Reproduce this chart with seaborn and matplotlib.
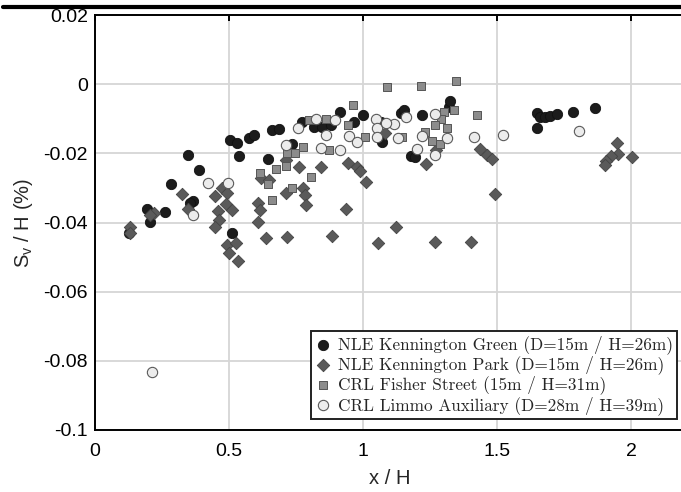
import numpy as np
import pandas as pd
import matplotlib
matplotlib.use("Agg")
import matplotlib.pyplot as plt
from matplotlib.lines import Line2D
import seaborn as sns

# ---------------- data ----------------
green_x = [0.126, 0.193, 0.204, 0.260, 0.282, 0.345, 0.386, 0.367, 0.356, 0.512,
           0.505, 0.531, 0.538, 0.575, 0.594, 0.646, 0.661, 0.687, 0.735, 0.772,
           0.817, 0.846, 0.880, 0.913, 0.965, 0.999, 1.065, 1.069, 1.140, 1.154,
           1.221, 1.180, 1.195, 1.321, 1.325, 1.648, 1.659, 1.678, 1.696, 1.722,
           1.782, 1.863, 1.648]
green_y = [-0.0430, -0.0361, -0.0398, -0.0369, -0.0288, -0.0205, -0.0248, -0.0338, -0.0343, -0.0430,
           -0.0161, -0.0170, -0.0208, -0.0155, -0.0147, -0.0216, -0.0132, -0.0129, -0.0173, -0.0109,
           -0.0124, -0.0124, -0.0118, -0.0080, -0.0109, -0.0089, -0.0109, -0.0167, -0.0083, -0.0075,
           -0.0089, -0.0208, -0.0210, -0.0066, -0.0049, -0.0083, -0.0095, -0.0095, -0.0092, -0.0086,
           -0.0080, -0.0069, -0.0127]

park_x = [0.130, 0.130, 0.219, 0.204, 0.323, 0.345, 0.449, 0.457, 0.464, 0.449,
          0.475, 0.494, 0.487, 0.509, 0.494, 0.527, 0.501, 0.535, 0.620, 0.650,
          0.609, 0.616, 0.609, 0.638, 0.713, 0.713, 0.716, 0.761, 0.776, 0.783,
          0.787, 0.843, 0.883, 0.935, 0.943, 0.976, 0.987, 1.010, 1.054, 1.080,
          1.121, 1.236, 1.273, 1.269, 1.403, 1.437, 1.463, 1.481, 1.492, 1.945,
          1.949, 1.923, 1.904, 1.900, 2.004]
park_y = [-0.0413, -0.0430, -0.0372, -0.0378, -0.0317, -0.0361, -0.0323, -0.0366, -0.0392, -0.0413,
          -0.0300, -0.0314, -0.0346, -0.0364, -0.0465, -0.0459, -0.0488, -0.0511, -0.0271, -0.0277,
          -0.0343, -0.0364, -0.0398, -0.0445, -0.0219, -0.0314, -0.0442, -0.0239, -0.0300, -0.0320,
          -0.0349, -0.0239, -0.0439, -0.0361, -0.0228, -0.0239, -0.0251, -0.0283, -0.0459, -0.0141,
          -0.0413, -0.0231, -0.0190, -0.0456, -0.0456, -0.0187, -0.0205, -0.0216, -0.0317, -0.0170,
          -0.0202, -0.0208, -0.0222, -0.0234, -0.0210]

fisher_x = [0.616, 0.676, 0.646, 0.661, 0.713, 0.735, 0.716, 0.746, 0.776, 0.805,
            0.872, 0.798, 0.861, 0.961, 0.943, 1.006, 1.088, 1.143, 1.214, 1.347,
            1.425, 1.340, 1.303, 1.292, 1.269, 1.314, 1.232, 1.255, 1.288]
fisher_y = [-0.0257, -0.0245, -0.0288, -0.0335, -0.0236, -0.0300, -0.0199, -0.0199, -0.0182, -0.0268,
            -0.0190, -0.0103, -0.0101, -0.0060, -0.0118, -0.0153, -0.0008, -0.0153, -0.0005, 0.0009,
            -0.0089, -0.0075, -0.0080, -0.0101, -0.0118, -0.0127, -0.0138, -0.0164, -0.0173]

limmo_x = [0.212, 0.423, 0.497, 0.367, 0.757, 0.824, 0.861, 0.713, 0.843, 0.913,
           0.895, 0.947, 0.976, 1.047, 1.050, 1.050, 1.114, 1.084, 1.128, 1.158,
           1.218, 1.199, 1.269, 1.314, 1.269, 1.414, 1.522, 1.804]
limmo_y = [-0.0832, -0.0286, -0.0286, -0.0378, -0.0127, -0.0101, -0.0147, -0.0176, -0.0184, -0.0190,
           -0.0103, -0.0150, -0.0167, -0.0101, -0.0127, -0.0153, -0.0115, -0.0112, -0.0155, -0.0095,
           -0.0150, -0.0187, -0.0086, -0.0155, -0.0205, -0.0153, -0.0147, -0.0135]

labels = ["NLE Kennington Green (D=15m / H=26m)",
          "NLE Kennington Park (D=15m / H=26m)",
          "CRL Fisher Street (15m / H=31m)",
          "CRL Limmo Auxiliary (D=28m / H=39m)"]
xticks = [0, 0.5, 1, 1.5, 2]
yticks = [-0.1, -0.08, -0.06, -0.04, -0.02, 0, 0.02]
xtick_labels = ["0", "0.5", "1", "1.5", "2"]
ytick_labels = ["-0.1", "-0.08", "-0.06", "-0.04", "-0.02", "0", "0.02"]

# ---------------- figure ----------------
sns.set_theme(style="whitegrid", rc={"grid.color": "#d6d6d6", "grid.linewidth": 1.3})
plt.rcParams["font.family"] = ["Liberation Sans", "DejaVu Sans"]
plt.rcParams["mathtext.default"] = "regular"

fig = plt.figure(figsize=(6.81, 4.92), dpi=100)
ax = fig.add_axes([95 / 681, 62 / 492, 590 / 681, 415 / 492])

styles = [
    dict(x=green_x, y=green_y, marker="o", s=55, color="#1c1c1c", edgecolor="#111111", lw=0.6),
    dict(x=park_x, y=park_y, marker="D", s=40, color="#5a5a5a", edgecolor="#444444", lw=0.6),
    dict(x=fisher_x, y=fisher_y, marker="s", s=28, color="#8c8c8c", edgecolor="#555555", lw=0.7),
    dict(x=limmo_x, y=limmo_y, marker="o", s=55, color="#ececec", edgecolor="#5a5a5a", lw=0.8),
]
for st, lab in zip(styles, labels):
    df = pd.DataFrame({"x": st["x"], "y": st["y"]})
    sns.scatterplot(data=df, x="x", y="y", ax=ax, marker=st["marker"], s=st["s"],
                    color=st["color"], edgecolor=st["edgecolor"], linewidth=st["lw"],
                    label=lab, zorder=3)

ax.set_xlim(0, 2.2)
ax.set_ylim(-0.1, 0.02)
ax.set_xticks(xticks)
ax.set_xticklabels(xtick_labels)
ax.set_yticks(yticks)
ax.set_yticklabels(ytick_labels)
ax.grid(True, which="major", color="#d6d6d6", linewidth=1.3)
ax.set_axisbelow(True)
for sp in ax.spines.values():
    sp.set_linewidth(1.4)
    sp.set_color("black")
ax.tick_params(direction="in", length=4, width=1.4, top=True, right=False,
               labelsize=14, colors="black")
ax.tick_params(axis="x", pad=9.5)
ax.tick_params(axis="y", pad=5)
ax.set_xlabel("x / H", fontsize=14.5, labelpad=6)
ax.set_ylabel("S$_{v}$ / H (%)", fontsize=14.5, labelpad=6)

leg = ax.legend(loc="lower right", bbox_to_anchor=(677 / 681, 73 / 492),
                bbox_transform=fig.transFigure, borderaxespad=0, frameon=True,
                fancybox=False, edgecolor="#222222", framealpha=1,
                handlelength=0.9, handletextpad=0.4, borderpad=0.25,
                labelspacing=0.08, prop={"family": ["cmr10", "DejaVu Serif"], "size": 12.4})
leg.get_frame().set_linewidth(1.4)

# thick black rule along the top of the image
fig.add_artist(Line2D([0.004, 1.0], [1 - 7 / 492, 1 - 7 / 492], color="black",
                      linewidth=3.0, transform=fig.transFigure))

fig.savefig("out.png", dpi=100)
